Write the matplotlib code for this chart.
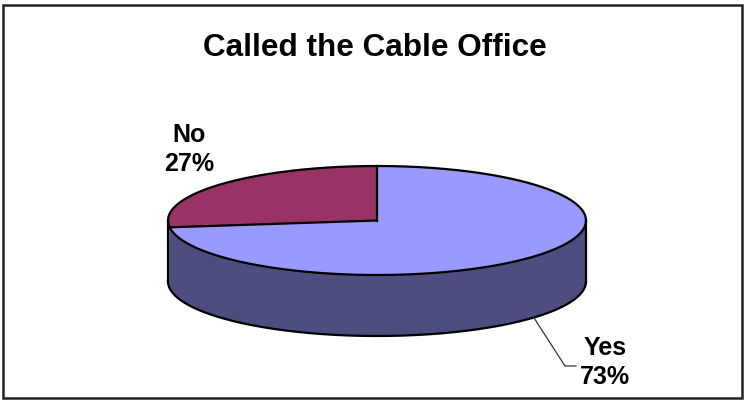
import numpy as np
import matplotlib
matplotlib.use("Agg")
import matplotlib.pyplot as plt
from matplotlib.patches import Polygon, Rectangle

title = "Called the Cable Office"
categories = ["No", "Yes"]
percents = [27, 73]
top_colors = ["#993366", "#9999FF"]
side_colors = ["#4D1A33", "#4D4D80"]

W, H = 744, 402
plt.rcParams["font.family"] = ["Liberation Sans", "DejaVu Sans"]
fig = plt.figure(figsize=(W / 100, H / 100), dpi=100)
ax = fig.add_axes([0, 0, 1, 1])
ax.set_xlim(0, W)
ax.set_ylim(H, 0)
ax.axis("off")

# tilted pie geometry (pixel units)
cx, cy, a, b, depth = 377, 221.5, 209, 54.5, 61


def pt(t_deg, dy=0.0):
    t = np.radians(t_deg)
    return cx + a * np.cos(t), cy - b * np.sin(t) + dy


def arc(t0, t1, dy=0.0, n=200):
    ts = np.linspace(t0, t1, n)
    xs, ys = pt(ts, dy)
    return np.column_stack([xs, ys])


# slices start at 12 o'clock and run counterclockwise
total = sum(percents)
bounds = []
ang = 90.0
for p in percents:
    span = p / total * 360.0
    bounds.append((ang, ang + span))
    ang += span

# side walls (only the front half is visible)
for (s, e), col in zip(bounds, side_colors):
    for off in (0.0, 360.0):
        lo, hi = max(s, 180 + off), min(e, 360 + off)
        if hi > lo:
            top = arc(lo, hi)
            bot = arc(hi, lo, depth)
            ax.add_patch(Polygon(np.vstack([top, bot]), closed=True,
                                 facecolor=col, edgecolor="none", zorder=1))

# top faces
for (s, e), col in zip(bounds, top_colors):
    poly = np.vstack([[cx, cy], arc(s, e)])
    ax.add_patch(Polygon(poly, closed=True, facecolor=col,
                         edgecolor="none", zorder=2))

lw = 1.6
# outlines
ell = arc(0, 360, n=400)
ax.plot(ell[:, 0], ell[:, 1], color="black", lw=lw, zorder=3)
bot = arc(180, 360, depth)
ax.plot(bot[:, 0], bot[:, 1], color="black", lw=lw, zorder=3)
for t in (180, 360):
    x0, y0 = pt(t)
    x1, y1 = pt(t, depth)
    ax.plot([x0, x1], [y0, y1], color="black", lw=lw, zorder=3)
for s, e in bounds:
    x0, y0 = pt(s)
    ax.plot([cx, x0], [cy, y0], color="black", lw=lw, zorder=3)

# labels
lab_kw = dict(fontsize=18, fontweight="bold", ha="center", va="top",
              multialignment="center", linespacing=1.28, zorder=4)
ax.text(189, 123, f"{categories[0]}\n{percents[0]}%", **lab_kw)
ax.text(605, 336, f"{categories[1]}\n{percents[1]}%", **lab_kw)

# leader line for the "Yes" label from the slice's mid-angle
mid = (bounds[1][0] + bounds[1][1]) / 2
lx, ly = pt(mid, depth)
ax.plot([lx, 565, 576], [ly, 367, 367], color="#333333", lw=0.9, zorder=3)

ax.text(W / 2 + 3, 33, title, fontsize=22.7, fontweight="bold",
        ha="center", va="top")

ax.add_patch(Rectangle((3, 6), 739, 393, fill=False, edgecolor="#222222",
                       lw=1.8, zorder=5))

fig.savefig("out.png", dpi=100)
